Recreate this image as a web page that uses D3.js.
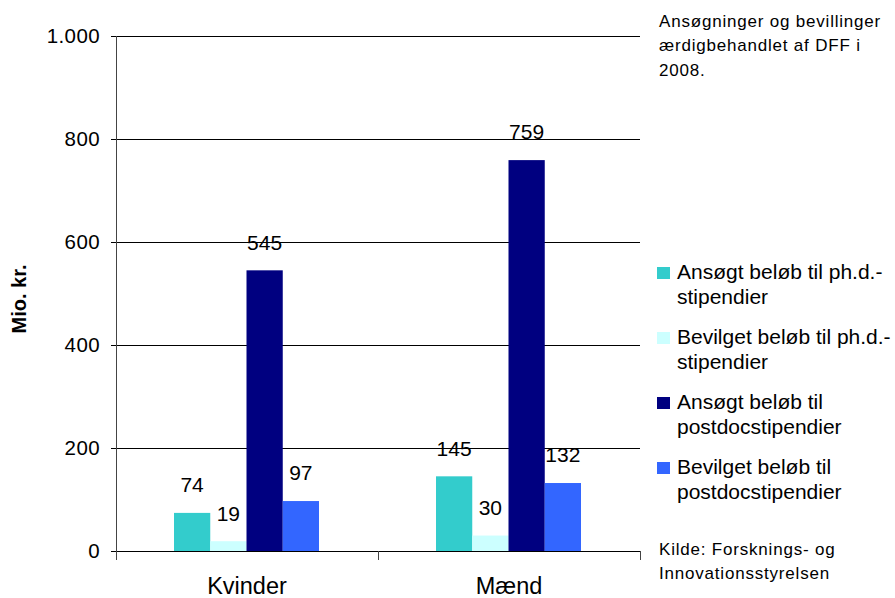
<!DOCTYPE html>
<html>
<head>
<meta charset="utf-8">
<script src="https://cdn.jsdelivr.net/npm/d3@7"></script>
<style>
  html, body { margin: 0; padding: 0; background: #fff; }
  svg { display: block; font-family: "Liberation Sans", Arial, sans-serif; }
</style>
</head>
<body>
<svg id="chart" width="895" height="598"></svg>
<script>
const categories = ["Kvinder", "Mænd"];
const seriesNames = [
  ["Ansøgt beløb til ph.d.-", "stipendier"],
  ["Bevilget beløb til ph.d.-", "stipendier"],
  ["Ansøgt beløb til", "postdocstipendier"],
  ["Bevilget beløb til", "postdocstipendier"]
];
const seriesColors = ["#33CCCC", "#CCFFFF", "#000080", "#3366FF"];
const values = [
  [74, 145],
  [19, 30],
  [545, 759],
  [97, 132]
];
const yTicks = [0, 200, 400, 600, 800, 1000];
const yTickLabels = ["0", "200", "400", "600", "800", "1.000"];
const noteLines = ["Ansøgninger og bevillinger", "ærdigbehandlet af DFF i", "2008."];
const sourceLines = ["Kilde: Forsknings- og", "Innovationsstyrelsen"];
const yTitle = "Mio. kr.";

(function () {
const svg = d3.select("#chart");
const pL = 116, pR = 640, pT = 36, pB = 551;

const y = d3.scaleLinear().domain([0, 1000]).range([pB, pT]);
const x0 = d3.scaleBand().domain(categories).range([pL, pR]).padding(0);
const x1 = d3.scaleBand().domain(d3.range(values.length))
  .range([58, x0.bandwidth() - 59]).padding(0);

// gridlines
svg.append("g").selectAll("line").data(yTicks).join("line")
  .attr("x1", pL - 5).attr("x2", pR)
  .attr("y1", d => Math.round(y(d)) + 0.5).attr("y2", d => Math.round(y(d)) + 0.5)
  .attr("stroke", "#000").attr("stroke-width", 1);

// y tick labels
svg.append("g").selectAll("text").data(yTicks).join("text")
  .attr("x", 100).attr("y", d => y(d))
  .attr("dy", "0.35em").attr("text-anchor", "end")
  .attr("font-size", 20.5).attr("letter-spacing", 0.4).attr("fill", "#000")
  .text((d, i) => yTickLabels[i]);

// bars
const groups = svg.append("g").selectAll("g").data(categories).join("g")
  .attr("transform", d => `translate(${x0(d)},0)`);
groups.each(function(cat, ci) {
  const g = d3.select(this);
  values.forEach((vals, si) => {
    g.append("rect")
      .attr("x", x1(si)).attr("width", x1.bandwidth())
      .attr("y", y(vals[ci])).attr("height", y(0) - y(vals[ci]))
      .attr("fill", seriesColors[si]);
    g.append("text")
      .attr("x", x1(si) + x1.bandwidth() / 2)
      .attr("y", y(vals[ci]) - 28)
      .attr("dy", "0.35em").attr("text-anchor", "middle")
      .attr("font-size", 21).attr("fill", "#000")
      .text(vals[ci]);
  });
});

// y axis line
svg.append("line").attr("x1", pL + 0.5).attr("x2", pL + 0.5)
  .attr("y1", pT).attr("y2", pB + 9)
  .attr("stroke", "#444").attr("stroke-width", 1);
// zero line on top of bars
svg.append("line").attr("x1", pL - 5).attr("x2", pR)
  .attr("y1", Math.round(y(0)) + 0.5).attr("y2", Math.round(y(0)) + 0.5)
  .attr("stroke", "#000");
// x ticks
const xTickPos = [pL, pL + x0.bandwidth(), pR];
svg.append("g").selectAll("line").data(xTickPos).join("line")
  .attr("x1", d => Math.round(d) + 0.5).attr("x2", d => Math.round(d) + 0.5)
  .attr("y1", pB).attr("y2", pB + 9)
  .attr("stroke", "#444");

// category labels
svg.append("g").selectAll("text").data(categories).join("text")
  .attr("x", d => x0(d) + x0.bandwidth() / 2).attr("y", 586)
  .attr("dy", "0.35em").attr("text-anchor", "middle")
  .attr("font-size", 23.5).attr("fill", "#000")
  .text(d => d);

// y title
svg.append("text")
  .attr("transform", "translate(19,299) rotate(-90)")
  .attr("text-anchor", "middle").attr("dy", "0.35em")
  .attr("font-size", 20).attr("font-weight", "bold")
  .text(yTitle);

// legend
const legend = svg.append("g");
seriesNames.forEach((lines, i) => {
  const yy = 272 + i * 65;
  legend.append("rect").attr("x", 657).attr("y", yy - 5).attr("width", 13).attr("height", 12)
    .attr("fill", seriesColors[i]);
  lines.forEach((ln, j) => {
    legend.append("text").attr("x", 677).attr("y", yy + j * 25)
      .attr("dy", "0.35em").attr("font-size", 21)
      .attr("fill", "#000").text(ln);
  });
});

// note
noteLines.forEach((ln, i) => {
  svg.append("text").attr("x", 659).attr("y", 21 + i * 24.5)
    .attr("dy", "0.35em").attr("font-size", 17).attr("letter-spacing", 0.8)
    .attr("fill", "#000").text(ln);
});
sourceLines.forEach((ln, i) => {
  svg.append("text").attr("x", 659).attr("y", 549 + i * 24.5)
    .attr("dy", "0.35em").attr("font-size", 17).attr("letter-spacing", 0.8)
    .attr("fill", "#000").text(ln);
});
})();
</script>
</body>
</html>
